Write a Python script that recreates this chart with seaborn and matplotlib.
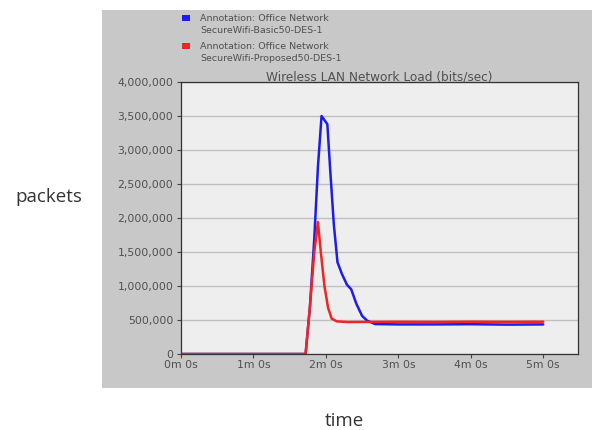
import pandas as pd
import matplotlib.pyplot as plt
import seaborn as sns
from matplotlib.patches import Rectangle
from matplotlib.ticker import FuncFormatter

# 数据 (时间: 分钟, 负载: bits/sec)
basic_time = [0.0, 1.72, 1.78, 1.84, 1.89, 1.94, 2.02, 2.06, 2.11, 2.16, 2.22, 2.29, 2.35,
              2.42, 2.50, 2.57, 2.68, 3.0, 3.5, 4.0, 4.5, 5.0]
basic_load = [0, 0, 700000, 1700000, 2750000, 3500000, 3380000, 2700000, 1900000, 1350000,
              1180000, 1020000, 950000, 740000, 560000, 490000, 440000, 435000, 435000,
              438000, 432000, 435000]

proposed_time = [0.0, 1.72, 1.78, 1.84, 1.89, 1.93, 1.98, 2.03, 2.08, 2.15, 2.3, 2.6, 3.0,
                 3.5, 4.0, 4.5, 5.0]
proposed_load = [0, 0, 700000, 1500000, 1940000, 1500000, 1000000, 680000, 520000, 480000,
                 470000, 472000, 474000, 472000, 475000, 473000, 475000]

series_names = ['Annotation: Office Network\nSecureWifi-Basic50-DES-1',
                'Annotation: Office Network\nSecureWifi-Proposed50-DES-1']
y_ticks = [0, 500000, 1000000, 1500000, 2000000, 2500000, 3000000, 3500000, 4000000]
x_ticks = [0, 1, 2, 3, 4, 5]
x_labels = ['0m 0s', '1m 0s', '2m 0s', '3m 0s', '4m 0s', '5m 0s']

df = pd.concat([
    pd.DataFrame({'time': basic_time, 'load': basic_load, 'series': series_names[0]}),
    pd.DataFrame({'time': proposed_time, 'load': proposed_load, 'series': series_names[1]}),
], ignore_index=True)

colors = ['#1c1cf0', '#f02424']

sns.set_style('white')
plt.rcParams['font.family'] = ['DejaVu Sans']

fig = plt.figure(figsize=(5.92, 4.30), dpi=100)
fig.patch.set_facecolor('white')

# 灰色面板
fig.patches.append(Rectangle((102 / 592, 1 - 388 / 430), 490 / 592, 378 / 430,
                             transform=fig.transFigure, facecolor='#c8c8c8',
                             edgecolor='none', zorder=-5))

ax = fig.add_axes([181 / 592, 1 - 354 / 430, (578 - 181) / 592, (354 - 82) / 430])
ax.set_zorder(1)
ax.set_facecolor('#eeeeee')

sns.lineplot(data=df, x='time', y='load', hue='series', palette=colors,
             linewidth=1.8, ax=ax, legend=False, estimator=None, sort=False)

ax.set_xlim(0, 5.48)
ax.set_ylim(0, 4000000)
ax.set_yticks(y_ticks)
ax.yaxis.set_major_formatter(FuncFormatter(lambda v, p: f'{int(v):,}'))
ax.set_xticks(x_ticks)
ax.set_xticklabels(x_labels)
ax.grid(axis='y', color='#c0c0c0', linewidth=1)
ax.tick_params(axis='both', labelsize=7.8, colors='#444444', length=3, width=0.8,
               direction='out', left=True, bottom=True, pad=1.5)
ax.tick_params(axis='y', labelcolor='#505050', pad=2.5)
ax.tick_params(axis='x', labelcolor='#505050')
for s in ax.spines.values():
    s.set_color('#333333')
    s.set_linewidth(0.9)
ax.set_xlabel('')
ax.set_ylabel('')

ax.set_title('Wireless LAN Network Load (bits/sec)', fontsize=8.7, color='#505050', pad=1)

# 图例
for i, (name, c) in enumerate(zip(series_names, colors)):
    y = 18 + i * 28
    fig.patches.append(Rectangle((182 / 592, 1 - (y + 3) / 430), 8 / 592, 6 / 430,
                                 transform=fig.transFigure, facecolor=c,
                                 edgecolor='none', zorder=2))
    fig.text(200 / 592, 1 - (y + 6.5) / 430, name, fontsize=6.8, color='#505050',
             va='center', ha='left', linespacing=1.5)

fig.text(49 / 592, 1 - 197 / 430, 'packets', fontsize=13.5, color='#333333',
         ha='center', va='center', family=['Open Sans', 'DejaVu Sans'])
fig.text(344 / 592, 1 - 421 / 430, 'time', fontsize=13.5, color='#333333',
         ha='center', va='center', family=['Open Sans', 'DejaVu Sans'])

fig.savefig('out.png', dpi=100)
